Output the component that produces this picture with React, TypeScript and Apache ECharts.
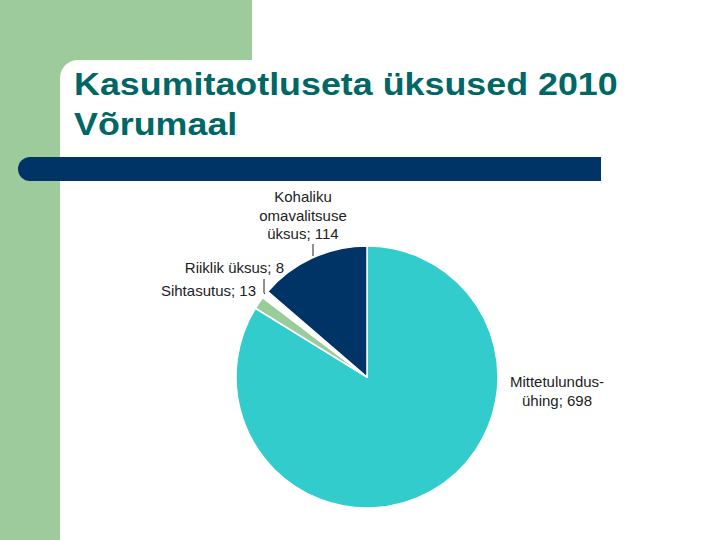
import React, { useEffect, useRef } from "react";
import * as echarts from "echarts";

const categories = ["Mittetulundus-\nühing", "Sihtasutus", "Riiklik üksus", "Kohaliku\nomavalitsuse\nüksus"];
const values = [698, 13, 8, 114];
const colors = ["#33CCCC", "#99CC99", "#FFFFFF", "#003366"];
const titleLines = ["Kasumitaotluseta üksused 2010", "Võrumaal"];

const labelPos = [
  { x: 557, y: 391, align: "center" },
  { x: 256, y: 290, align: "right" },
  { x: 284, y: 267, align: "right" },
  { x: 303, y: 215, align: "center" },
];

export default function App() {
  const ref = useRef<HTMLDivElement>(null);
  useEffect(() => {
    const chart = echarts.init(ref.current!, null, { renderer: "svg" });
    const titleFont = "bold 32px 'Liberation Sans', Arial, sans-serif";
    chart.setOption({
      animation: false,
      backgroundColor: "#ffffff",
      graphic: [
        { type: "rect", shape: { x: 0, y: 0, width: 252, height: 90 }, style: { fill: "#9DCB9B" }, z: 0 },
        { type: "rect", shape: { x: 0, y: 0, width: 60, height: 540 }, style: { fill: "#9DCB9B" }, z: 0 },
        { type: "rect", shape: { x: 60, y: 60, width: 680, height: 500, r: [18, 0, 0, 0] }, style: { fill: "#ffffff" }, z: 1 },
        { type: "rect", shape: { x: 18, y: 157, width: 583, height: 24, r: [12, 0, 0, 12] }, style: { fill: "#003366" }, z: 2 },
        {
          type: "text", x: 74, y: 68, scaleX: 1.12, z: 3,
          style: { text: titleLines[0], font: titleFont, fill: "#006666" },
        },
        {
          type: "text", x: 74, y: 108, scaleX: 1.12, z: 3,
          style: { text: titleLines[1], font: titleFont, fill: "#006666" },
        },
        { type: "line", z: 3, shape: { x1: 313, y1: 244, x2: 313, y2: 256 }, style: { stroke: "#222", lineWidth: 1 } },
        { type: "polyline", z: 3, shape: { points: [[264, 279], [264, 293], [269, 297]] }, style: { stroke: "#222", lineWidth: 1, fill: "none" } },
      ],
      series: [
        {
          type: "pie",
          center: [367, 377],
          radius: 131,
          startAngle: 90,
          clockwise: true,
          z: 5,
          itemStyle: { borderColor: "#ffffff", borderWidth: 1.5 },
          label: {
            show: true,
            formatter: "{b}; {c}",
            fontFamily: "'Liberation Sans', Arial, sans-serif",
            fontSize: 15,
            lineHeight: 18.5,
            color: "#222222",
          },
          labelLine: { show: false },
          labelLayout: (p: any) => {
            const l = labelPos[p.dataIndex];
            return { x: l.x, y: l.y, align: l.align, verticalAlign: "middle" };
          },
          data: categories.map((c, i) => ({ name: c, value: values[i], itemStyle: { color: colors[i] } })),
        },
      ],
    });
    return () => chart.dispose();
  }, []);
  return <div ref={ref} style={{ position: "fixed", left: 0, top: 0, width: 720, height: 540 }} />;
}
